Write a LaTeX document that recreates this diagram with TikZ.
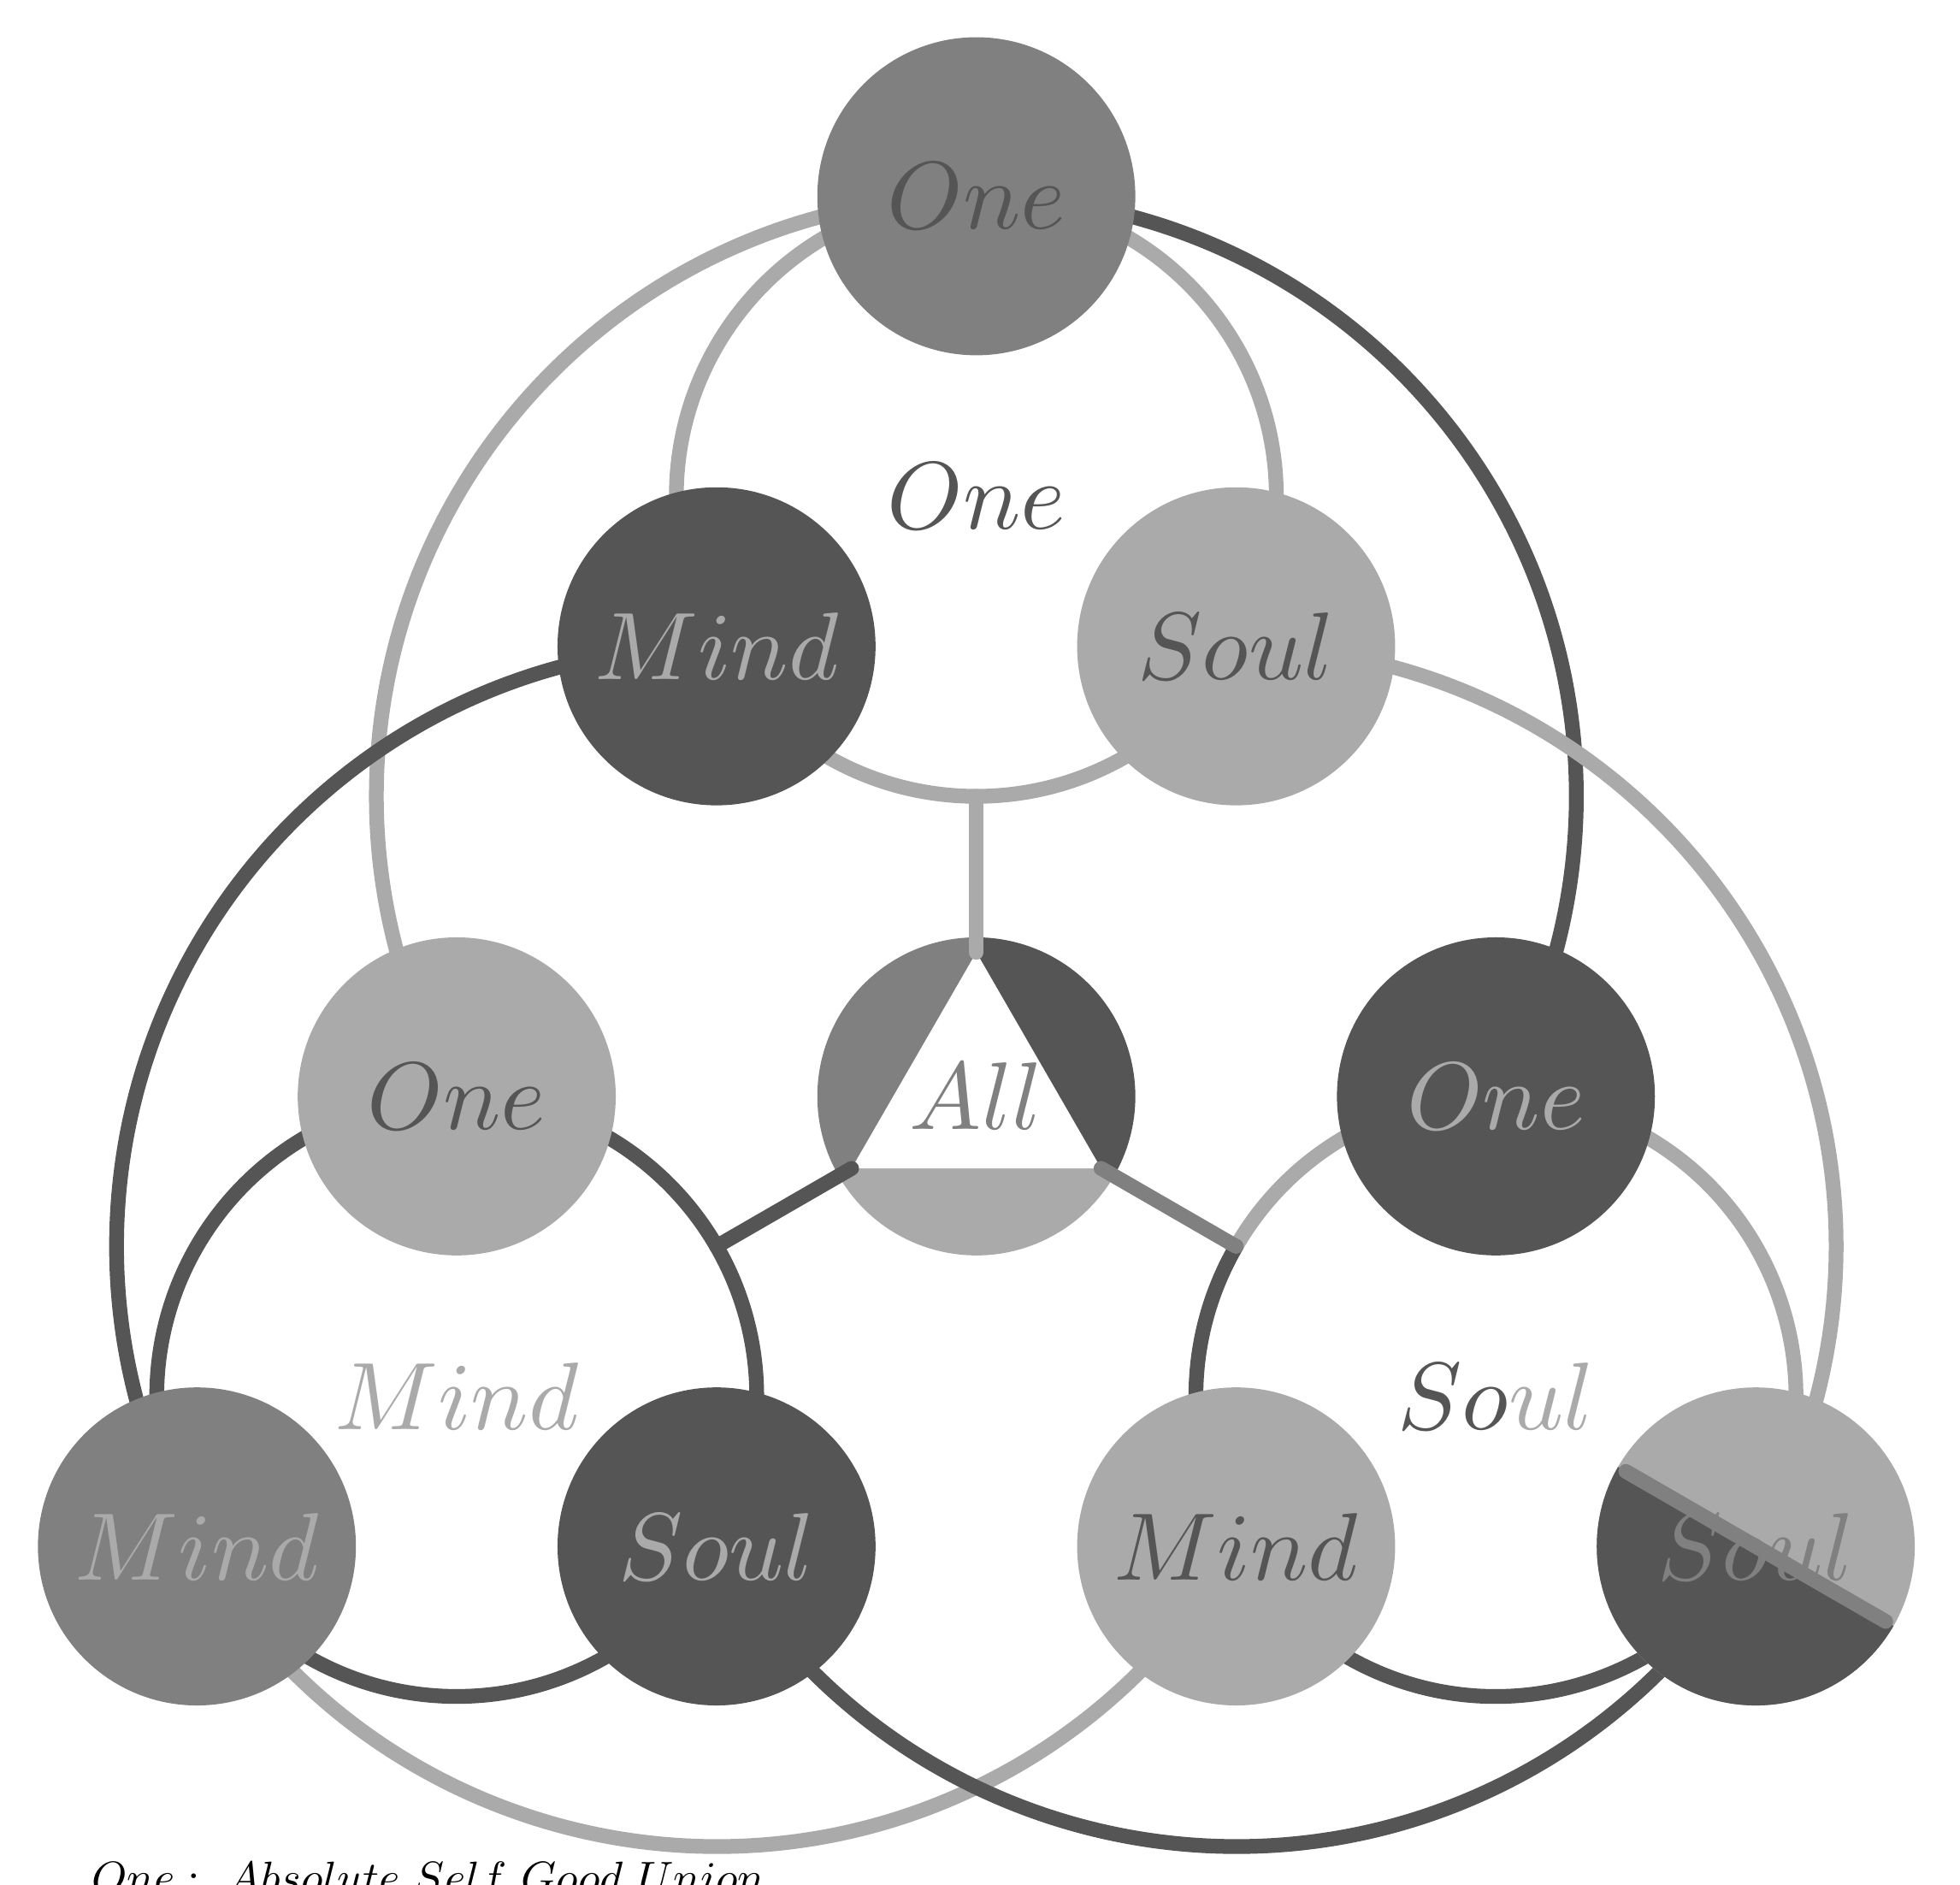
\RequirePackage{fix-cm}
\documentclass[tikz,border=0pt]{standalone}
\usepackage{amsmath,amssymb}
\usepackage{tikz}
\usetikzlibrary{positioning}
\definecolor{deep}{HTML}{555555}
\definecolor{half}{HTML}{808080}
\definecolor{pale}{HTML}{AAAAAA}
\pgfdeclarelayer{back}
\pgfsetlayers{back,main}
\newcommand{\nm}[1]{\scalebox{0.91}{$#1$}}

\begin{document}
\begin{tikzpicture}
        \tikzstyle{unit} = [circle, minimum size=1.06cm, inner sep=0pt, text centered]
        \tikzstyle{tag} = [inner sep=0pt]
        \tikzstyle{band} = [line width=1.4pt, line cap=round]

        \path[use as bounding box, clip] (-3.2545,-2.626) rectangle (3.279,3.654);

        % Coordinates
        \coordinate (ct) at (90:2);
        \coordinate (cl) at (210:2);
        \coordinate (cr) at (330:2);
        \coordinate (jt) at (90:1);
        \coordinate (jl) at (210:1);
        \coordinate (jr) at (330:1);
        \coordinate (va) at (90:0.48);
        \coordinate (vl) at (210:0.48);
        \coordinate (vr) at (330:0.48);

        % Nodes
        \node[unit, fill=half, text=deep] (t1) at (90:3) {\nm{One}};
        \node[unit, fill=deep, text=pale] (t2) at (120:1.732) {\nm{Mind}};
        \node[unit, fill=pale, text=deep] (t3) at (60:1.732) {\nm{Soul}};
        \node[unit, fill=pale, text=deep] (l1) at (180:1.732) {\nm{One}};
        \node[unit, fill=half, text=pale] (l2) at (210:3) {\nm{Mind}};
        \node[unit, fill=deep, text=pale] (l3) at (240:1.732) {\nm{Soul}};
        \node[unit, fill=deep, text=pale] (r1) at (0:1.732) {\nm{One}};
        \node[unit, fill=pale, text=deep] (r2) at (300:1.732) {\nm{Mind}};
        \node[unit, fill=pale, text=half, path picture={
                \fill[deep] (path picture bounding box.center) ++(150:1) -- ++(-30:2) -- ++(240:1) -- ++(150:2) -- cycle;
                \draw[band, half] (path picture bounding box.center) ++(150:0.5) -- ++(-30:1);
        }] (r3) at (330:3) {\nm{Soul}};

        \node[tag, text=deep] (tname) at (ct) {\nm{One}};
        \node[tag, text=pale] (lname) at (cl) {\nm{Mind}};
        \node[tag] (rname) at (cr) {\nm{{\color{deep}So}{\color{pale}ul}}};

        % All
        \fill[half] (0,0) -- (90:0.53) arc[start angle=90, end angle=210, radius=0.53] -- cycle;
        \fill[pale] (0,0) -- (210:0.53) arc[start angle=210, end angle=330, radius=0.53] -- cycle;
        \fill[deep] (0,0) -- (330:0.53) arc[start angle=330, end angle=450, radius=0.53] -- cycle;
        \fill[white] (va) -- (vl) -- (vr) -- cycle;
        \node[unit, text=half] (all) at (0,0) {\nm{All}};

        % Edges
        \begin{pgfonlayer}{back}
        \draw[band, pale] (ct) circle[radius=1];
        \draw[band, deep] (cl) circle[radius=1];
        \draw[band, pale] (r3.center) arc[start angle=-30, end angle=150, radius=1];
        \draw[band, deep] (jr) arc[start angle=150, end angle=330, radius=1];
        \draw[band, pale] (t1.center) arc[start angle=90, end angle=210, radius=2];
        \draw[band, deep] (t1.center) arc[start angle=90, end angle=-30, radius=2];
        \draw[band, deep] (t2.center) arc[start angle=90, end angle=210, radius=2];
        \draw[band, pale] (l2.center) arc[start angle=210, end angle=330, radius=2];
        \draw[band, pale] (t3.center) arc[start angle=90, end angle=-30, radius=2];
        \draw[band, deep] (l3.center) arc[start angle=210, end angle=330, radius=2];
        \end{pgfonlayer}
        \draw[band, pale] (va) -- (jt);
        \draw[band, deep] (vl) -- (jl);
        \draw[band, half] (vr) -- (jr);

        % Key
        \node[anchor=base west, inner sep=0pt] (key) at (-2.955,-2.656) {\scalebox{0.425}{$One:\ Absolute\ Self\ Good\ Union$}};
\end{tikzpicture}
\end{document}
